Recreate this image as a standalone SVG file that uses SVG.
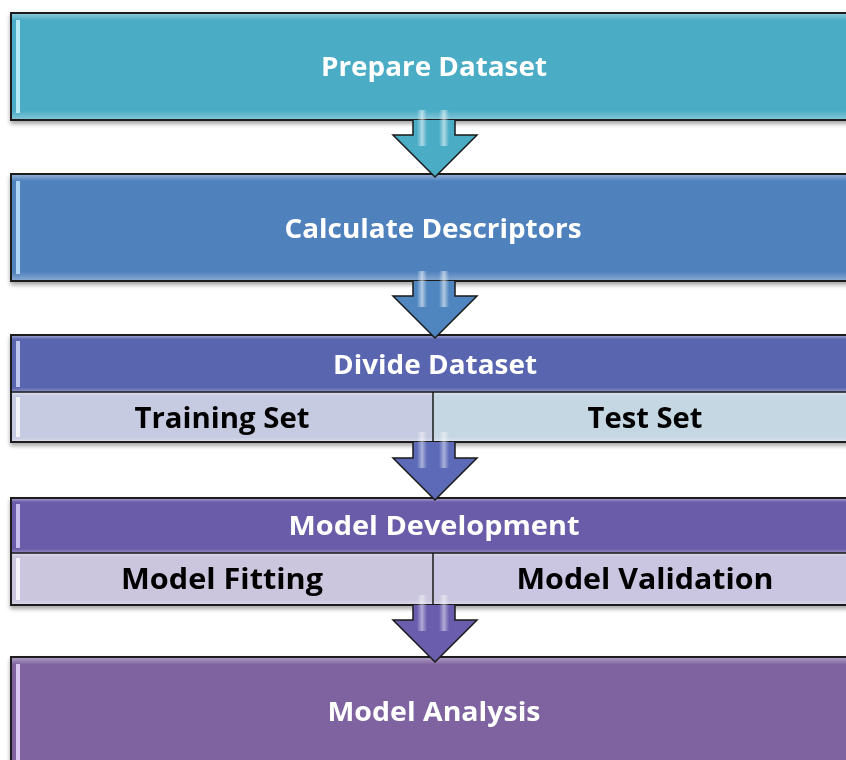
<svg xmlns="http://www.w3.org/2000/svg" width="846" height="760" viewBox="0 0 846 760">
<defs>
  <linearGradient id="bevV" x1="0" y1="0" x2="0" y2="1">
    <stop offset="0" stop-color="#fff" stop-opacity="0.35"/>
    <stop offset="0.06" stop-color="#fff" stop-opacity="0"/>
    <stop offset="0.92" stop-color="#fff" stop-opacity="0"/>
    <stop offset="1" stop-color="#fff" stop-opacity="0.3"/>
  </linearGradient>
  <linearGradient id="hl" x1="0" y1="0" x2="1" y2="0">
    <stop offset="0" stop-color="#fff" stop-opacity="0"/>
    <stop offset="0.5" stop-color="#fff" stop-opacity="0.8"/>
    <stop offset="1" stop-color="#fff" stop-opacity="0"/>
  </linearGradient>
  <filter id="sh" x="-5%" y="-5%" width="110%" height="120%">
    <feGaussianBlur in="SourceAlpha" stdDeviation="2"/>
    <feOffset dx="0" dy="3"/>
    <feComponentTransfer><feFuncA type="linear" slope="0.35"/></feComponentTransfer>
    <feMerge><feMergeNode/><feMergeNode in="SourceGraphic"/></feMerge>
  </filter>
</defs>
<style>
  .bx{stroke:#1a1a1a;stroke-width:2}
  .sub{stroke:#1a1a1a;stroke-width:1.5}
  .t{font-family:"Open Sans","Liberation Sans",sans-serif;font-weight:bold;font-size:27px;text-anchor:middle}
  .s{font-size:29px}
  .w{fill:#ffffff}
  .k{fill:#000000}
  .arr{stroke:#1a1a1a;stroke-width:1.5;stroke-linejoin:miter}
  .gl{fill:url(#hl)}
</style>

<g id="prepare" filter="url(#sh)">
  <rect class="bx" x="11" y="13" width="850" height="107" fill="#4BACC6"/>
  <rect x="12" y="14" width="848" height="105" fill="url(#bevV)"/>
  <rect x="16" y="20" width="4" height="93" fill="#C8F4FF" opacity="0.85"/>
  <text class="t w" x="434" y="76" textLength="226" lengthAdjust="spacingAndGlyphs">Prepare Dataset</text>
</g>

<g id="calculate" filter="url(#sh)">
  <rect class="bx" x="11" y="174" width="850" height="107" fill="#4F81BD"/>
  <rect x="12" y="175" width="848" height="105" fill="url(#bevV)"/>
  <rect x="16" y="181" width="4" height="93" fill="#BFE4FF" opacity="0.85"/>
  <text class="t w" x="433" y="238" textLength="297" lengthAdjust="spacingAndGlyphs">Calculate Descriptors</text>
</g>

<g id="divide" filter="url(#sh)">
  <rect x="11" y="335" width="850" height="57" fill="#5A65B0"/>
  <rect x="12" y="336" width="848" height="56" fill="url(#bevV)"/>
  <rect x="11" y="392" width="422" height="50" fill="#C6CBE1"/>
  <rect x="433" y="392" width="428" height="50" fill="#C6D7E4"/>
  <rect x="12" y="393" width="848" height="48" fill="url(#bevV)"/>
  <rect class="bx" x="11" y="335" width="850" height="107" fill="none"/>
  <line class="sub" x1="11" y1="392" x2="861" y2="392"/>
  <line class="sub" x1="433" y1="392" x2="433" y2="442"/>
  <rect x="16" y="341" width="4" height="46" fill="#D8E0FF" opacity="0.8"/>
  <rect x="16" y="397" width="4" height="40" fill="#FFFFFF" opacity="0.8"/>
  <text class="t w" x="435" y="374" textLength="204" lengthAdjust="spacingAndGlyphs">Divide Dataset</text>
  <text class="t s k" x="222" y="428" textLength="175" lengthAdjust="spacingAndGlyphs">Training Set</text>
  <text class="t s k" x="645" y="428" textLength="115" lengthAdjust="spacingAndGlyphs">Test Set</text>
</g>

<g id="model-development" filter="url(#sh)">
  <rect x="11" y="498" width="850" height="55" fill="#6A5CA8"/>
  <rect x="12" y="499" width="848" height="54" fill="url(#bevV)"/>
  <rect x="11" y="553" width="422" height="52" fill="#CBC6DE"/>
  <rect x="433" y="553" width="428" height="52" fill="#CAC5E0"/>
  <rect x="12" y="554" width="848" height="50" fill="url(#bevV)"/>
  <rect class="bx" x="11" y="498" width="850" height="107" fill="none"/>
  <line class="sub" x1="11" y1="553" x2="861" y2="553"/>
  <line class="sub" x1="433" y1="553" x2="433" y2="605"/>
  <rect x="16" y="504" width="4" height="44" fill="#E0D8FF" opacity="0.8"/>
  <rect x="16" y="558" width="4" height="42" fill="#FFFFFF" opacity="0.8"/>
  <text class="t w" x="434" y="535" textLength="291" lengthAdjust="spacingAndGlyphs">Model Development</text>
  <text class="t s k" x="222" y="589" textLength="202" lengthAdjust="spacingAndGlyphs">Model Fitting</text>
  <text class="t s k" x="645" y="589" textLength="257" lengthAdjust="spacingAndGlyphs">Model Validation</text>
</g>

<g id="model-analysis" filter="url(#sh)">
  <rect class="bx" x="11" y="657" width="850" height="115" fill="#7F63A0"/>
  <rect x="12" y="658" width="848" height="113" fill="url(#bevV)"/>
  <rect x="16" y="664" width="4" height="100" fill="#EAD8FF" opacity="0.85"/>
  <text class="t w" x="434" y="721" textLength="213" lengthAdjust="spacingAndGlyphs">Model Analysis</text>
</g>

<g id="connectors">
  <g id="arrow1">
    <path class="arr" d="M413,120 V135 H393 L435,177 L477,135 H455 V120" fill="#4BACC6"/>
    <rect class="gl" x="417" y="110" width="10" height="36" opacity="0.7"/>
    <rect class="gl" x="439" y="110" width="10" height="36" opacity="0.7"/>
  </g>
  <g id="arrow2">
    <path class="arr" d="M413,281 V296 H393 L435,338 L477,296 H455 V281" fill="#5086C0"/>
    <rect class="gl" x="417" y="271" width="10" height="36" opacity="0.7"/>
    <rect class="gl" x="439" y="271" width="10" height="36" opacity="0.7"/>
  </g>
  <g id="arrow3">
    <path class="arr" d="M413,442 V458 H393 L435,500 L477,458 H455 V442" fill="#5C6AB8"/>
    <rect class="gl" x="417" y="432" width="10" height="36" opacity="0.6"/>
    <rect class="gl" x="439" y="432" width="10" height="36" opacity="0.6"/>
  </g>
  <g id="arrow4">
    <path class="arr" d="M413,605 V620 H393 L435,662 L477,620 H455 V605" fill="#6B5DAE"/>
    <rect class="gl" x="417" y="595" width="10" height="36" opacity="0.6"/>
    <rect class="gl" x="439" y="595" width="10" height="36" opacity="0.6"/>
  </g>
</g>
</svg>
